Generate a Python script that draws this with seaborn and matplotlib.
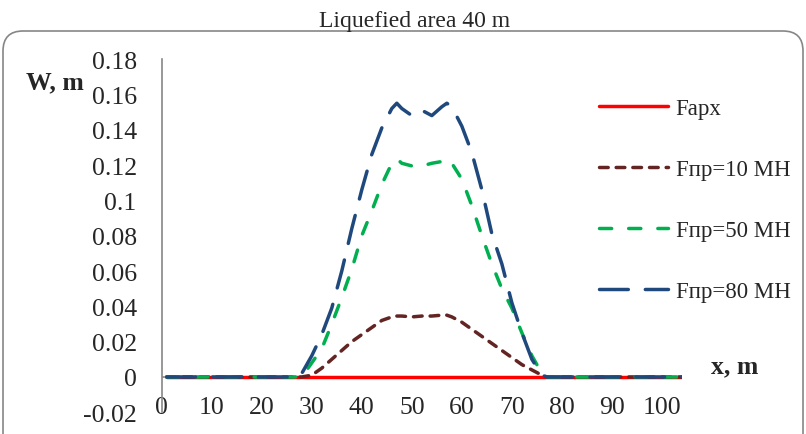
import numpy as np
import pandas as pd
import seaborn as sns
import matplotlib.pyplot as plt
from matplotlib.patches import FancyBboxPatch
from matplotlib.transforms import IdentityTransform

# data
x = [1, 27, 28, 30, 32, 34, 36, 38, 40, 42, 44, 46, 47, 48, 50, 52, 54, 56, 57, 58,
     60, 62, 64, 66, 68, 70, 72, 74, 76, 77, 78, 104]
w_arch = [0] * len(x)
w_f10 = [0, 0, 0, 0.001, 0.005, 0.010, 0.015, 0.020, 0.024, 0.028, 0.032, 0.034, 0.0345, 0.0345,
         0.034, 0.0345, 0.0345, 0.035, 0.035, 0.034, 0.031, 0.027, 0.023, 0.019, 0.015, 0.011,
         0.007, 0.004, 0.001, 0, 0, 0]
w_f50 = [0, 0, 0, 0.008, 0.016, 0.030, 0.045, 0.061, 0.080, 0.094, 0.109, 0.121, 0.1235, 0.121,
         0.1195, 0.1195, 0.121, 0.122, 0.1235, 0.121, 0.112, 0.097, 0.080, 0.064, 0.050, 0.039,
         0.025, 0.012, 0.002, 0, 0, 0]
w_f80 = [0, 0, 0.002, 0.012, 0.024, 0.039, 0.060, 0.084, 0.106, 0.126, 0.141, 0.152, 0.155, 0.152,
         0.148, 0.151, 0.148, 0.153, 0.155, 0.153, 0.142, 0.127, 0.106, 0.081, 0.064, 0.042,
         0.025, 0.010, 0.001, 0, 0, 0]
labels = ['Fарх', 'Fпр=10 МН', 'Fпр=50 МН', 'Fпр=80 МН']
colors = ['#FF0000', '#632523', '#00B050', '#1F497D']
dash_styles = ['', (2.5, 2.3), (3.5, 4.9), (8.3, 4.9)]

df = pd.concat([pd.DataFrame({'x': x, 'W': vals, 'case': lab})
                for vals, lab in zip([w_arch, w_f10, w_f50, w_f80], labels)])

sns.set_style('white')
plt.rcParams['font.family'] = ['Liberation Serif', 'DejaVu Serif']
plt.rcParams['lines.dash_capstyle'] = 'round'
plt.rcParams['lines.solid_capstyle'] = 'round'

fig = plt.figure(figsize=(8.06, 4.35), dpi=100)
ax = fig.add_axes([0.2006, 0.0499, 0.6455, 0.812])

ax.axhline(0, color='#868686', lw=1.2, zorder=0)
sns.lineplot(data=df, x='x', y='W', hue='case', style='case', palette=dict(zip(labels, colors)),
             dashes=dict(zip(labels, dash_styles)), hue_order=labels, style_order=labels,
             estimator=None, lw=2.5, ax=ax, legend=False)

ax.set_xlim(0, 104)
ax.set_ylim(-0.02, 0.18)
ax.set_xticks(range(0, 101, 10))
ax.set_yticks(np.arange(-0.02, 0.181, 0.02))
ax.set_yticklabels(['-0.02', '0', '0.02', '0.04', '0.06', '0.08', '0.1', '0.12', '0.14', '0.16', '0.18'])
ax.set_xlabel('')
ax.set_ylabel('')
for s in ['top', 'right', 'bottom']:
    ax.spines[s].set_visible(False)
ax.spines['left'].set_color('#868686')
ax.spines['left'].set_linewidth(1.2)
ax.tick_params(axis='y', length=0, pad=18, labelsize=18.5)
ax.tick_params(axis='x', length=0, pad=-4, labelsize=18.5)
for t in ax.get_xticklabels():
    t.set_va('center')

handles = ax.get_lines()[1:]
ax.legend(handles, labels, loc='upper left', bbox_to_anchor=(599 / 806, 1 - 99 / 435),
          bbox_transform=fig.transFigure, frameon=False, fontsize=16.5, borderpad=0,
          borderaxespad=0, handlelength=3.0, handletextpad=0.35, labelspacing=1.75)

fig.text(415 / 806, 1 - 21 / 435, 'Liquefied area 40 m', ha='center', va='center', fontsize=17)
fig.text(55 / 806, 1 - 83 / 435, 'W, m', ha='center', va='center', fontsize=18.5, fontweight='bold')
fig.text(735 / 806, 1 - 367 / 435, 'x, m', ha='center', va='center', fontsize=18.5, fontweight='bold')

border = FancyBboxPatch((3, -20), 800, 423, boxstyle='round,pad=0,rounding_size=20',
                        transform=IdentityTransform(), fill=False, ec='#868686', lw=1.2)
fig.patches.append(border)

fig.savefig('out.png', dpi=100)
